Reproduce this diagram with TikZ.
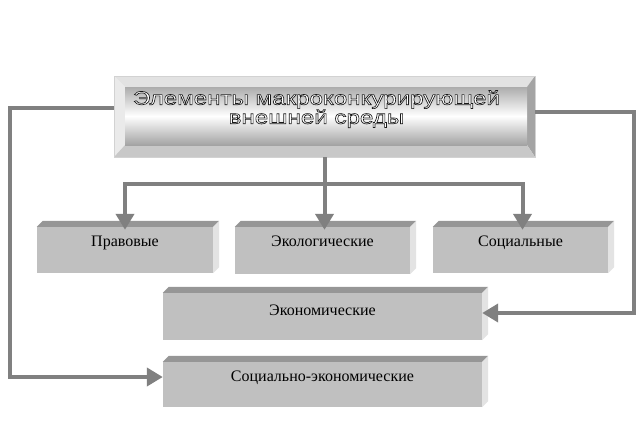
\documentclass[tikz,border=0pt]{standalone}
\usepackage{fontspec}
\setmainfont{Liberation Serif}
\newfontfamily\titlefont[FakeStretch=1.27]{Liberation Sans}
\usetikzlibrary{arrows.meta,calc}
\definecolor{faceG}{HTML}{C0C0C0}
\definecolor{topG}{HTML}{969696}
\definecolor{sideG}{HTML}{E3E3E3}
\definecolor{connG}{HTML}{808080}
\definecolor{bevTop}{HTML}{E2E2E2}
\definecolor{bevLeft}{HTML}{EAEAEA}
\definecolor{bevRight}{HTML}{A4A4A4}
\definecolor{bevBot}{HTML}{C8C8C8}
\newcommand\slabfaces[1]{%
  \fill[topG] (#1.north west) -- (#1.north east) -- ([shift={(6pt,6pt)}]#1.north east) -- ([shift={(6pt,6pt)}]#1.north west) -- cycle;
  \fill[sideG] (#1.north east) -- (#1.south east) -- ([shift={(6pt,6pt)}]#1.south east) -- ([shift={(6pt,6pt)}]#1.north east) -- cycle;
}
\newcommand\outlinetext[1]{{\color{white}\special{pdf:literal direct 2 Tr 0.65 w 0.1 G}#1\special{pdf:literal direct 0 Tr}}}
\tikzset{
  slab/.style={fill=faceG, inner sep=0pt, font=\fontsize{16}{18}\selectfont, text height=10pt},
  conn/.style={draw=connG, line width=4pt},
  arr/.style={-{Triangle[width=18pt,length=16pt]}},
  titlebox/.style={minimum width=421pt, minimum height=81pt, inner sep=0pt, draw=gray!35, line width=0.6pt,
    font=\titlefont\fontsize{19}{20}\selectfont,
    path picture={
      \fill[bevTop] (path picture bounding box.north west) -- (path picture bounding box.north east) -- ([shift={(-8pt,-11pt)}]path picture bounding box.north east) -- ([shift={(11pt,-11pt)}]path picture bounding box.north west) -- cycle;
      \fill[bevLeft] (path picture bounding box.north west) -- (path picture bounding box.south west) -- ([shift={(11pt,12pt)}]path picture bounding box.south west) -- ([shift={(11pt,-11pt)}]path picture bounding box.north west) -- cycle;
      \fill[bevRight] (path picture bounding box.north east) -- (path picture bounding box.south east) -- ([shift={(-8pt,12pt)}]path picture bounding box.south east) -- ([shift={(-8pt,-11pt)}]path picture bounding box.north east) -- cycle;
      \fill[bevBot] (path picture bounding box.south west) -- (path picture bounding box.south east) -- ([shift={(-8pt,12pt)}]path picture bounding box.south east) -- ([shift={(11pt,12pt)}]path picture bounding box.south west) -- cycle;
      \shade[top color=gray!65, bottom color=gray!72, middle color=white] ([shift={(11pt,-11pt)}]path picture bounding box.north west) rectangle ([shift={(-8pt,12pt)}]path picture bounding box.south east);
    }}
}
\begin{document}
\begin{tikzpicture}[x=1pt,y=-1pt]
\useasboundingbox (0,0) rectangle (638,429);
% title
\node[titlebox] (title) at (324.5,116.5) {\raisebox{2pt}[0pt][0pt]{\makebox[0pt]{\hspace*{-16pt}\begin{tabular}{@{}c@{}}\outlinetext{Элементы макроконкурирующей}\\[-1pt]\outlinetext{внешней среды}\end{tabular}}}};
% slabs
\node[slab, minimum width=176pt, minimum height=46pt, text depth=18pt] (prav) at (125,250) {Правовые};
\node[slab, minimum width=175pt, minimum height=47pt, text depth=18pt] (ekol) at (322.5,250.5) {Экологические};
\node[slab, minimum width=175pt, minimum height=46pt, text depth=18pt] (soc) at (520.5,250) {Социальные};
\node[slab, minimum width=319pt, minimum height=47pt, text depth=12pt] (econ) at (322.5,316.5) {Экономические};
\node[slab, minimum width=319pt, minimum height=45pt, text depth=16pt] (sek) at (322.5,384.5) {Социально-экономические};
\slabfaces{prav}
\slabfaces{ekol}
\slabfaces{soc}
\slabfaces{econ}
\slabfaces{sek}
% connectors
\coordinate (lturn) at (10,250);
\coordinate (rturn) at (634,250);
\draw[conn] (title.south) -- ++(0,26.5) coordinate (bar);
\draw[conn,arr,shorten >=-3pt] (bar) -| (prav.north);
\draw[conn,arr,shorten >=-3pt] (bar) -| ([xshift=2pt]soc.north);
\draw[conn,arr,shorten >=-3pt] (bar) -- (bar |- ekol.north);
\draw[conn,arr] ([yshift=8.5pt]title.west) -| (lturn) |- ([yshift=7.5pt]sek.west);
\draw[conn,arr] ([yshift=4.5pt]title.east) -| (rturn) |- ([yshift=3.5pt]econ.east);
\end{tikzpicture}
\end{document}
